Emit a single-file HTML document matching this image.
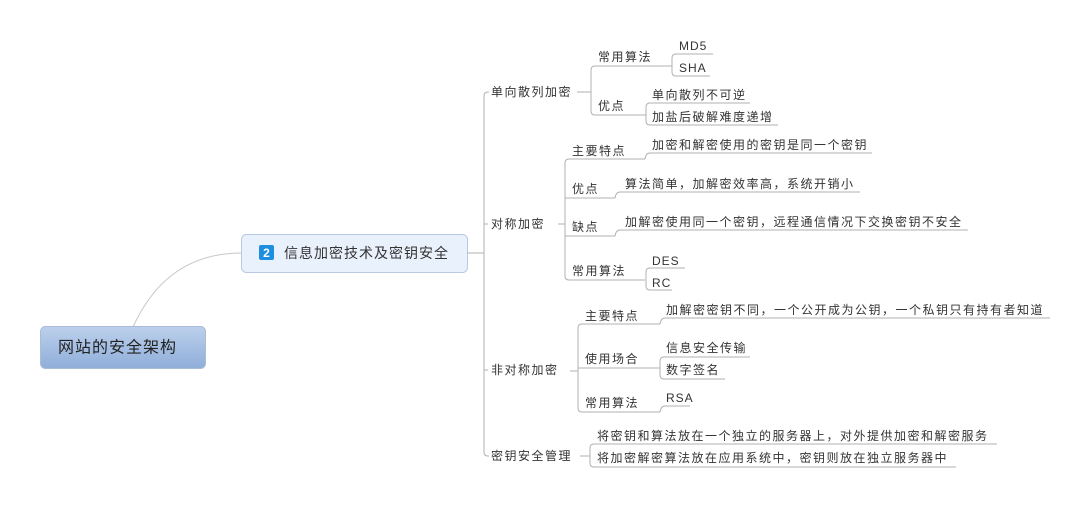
<!DOCTYPE html>
<html><head><meta charset="utf-8"><style>
body{margin:0;background:#fff;width:1088px;height:506px;overflow:hidden}
svg text{font-family:"Liberation Sans","Noto Sans CJK SC",sans-serif;font-size:12px;fill:#333;letter-spacing:1.5px;dominant-baseline:central}
.l{fill:none;stroke:#b0b0b0;stroke-width:1}
</style></head><body>
<svg width="1088" height="506" xmlns="http://www.w3.org/2000/svg">
<defs><linearGradient id="g" x1="0" y1="0" x2="0" y2="1"><stop offset="0" stop-color="#bcd0ec"/><stop offset="1" stop-color="#8faed9"/></linearGradient></defs>
<path class="l" d="M133,327 C150,290 180,253 242,253" stroke-width="2" style="stroke:#c8c8c8"/>
<rect x="40.5" y="326.5" width="165" height="42" rx="5" fill="url(#g)" stroke="#a9bcd8"/>
<text x="58" y="348" style="font-size:16px;letter-spacing:1px;fill:#222">网站的安全架构</text>
<rect x="241.5" y="234.5" width="226" height="38" rx="5" fill="#e9f1fc" stroke="#b8c9e1"/>
<rect x="259" y="245" width="15" height="15" rx="2" fill="#1e8fe0"/>
<text x="266.5" y="253" style="font-size:12px;font-weight:bold;fill:#fff;text-anchor:middle;letter-spacing:0">2</text>
<text x="284" y="253" style="font-size:14px;letter-spacing:1px">信息加密技术及密钥安全</text>
<path class="l" d="M467,253 H484"/>
<path class="l" d="M489,92 H488 Q484,92 484,96 V452 Q484,456 488,456 H489 M484,224 H488 M484,370 H488"/>
<text x="491" y="92">单向散列加密</text>
<text x="491" y="224">对称加密</text>
<text x="491" y="370">非对称加密</text>
<text x="491" y="456">密钥安全管理</text>
<!-- hash -->
<path class="l" d="M577,92 H591 M672,66 H595 Q591,66 591,70 V111 Q591,115 595,115 H646"/>
<text x="598" y="57">常用算法</text><text x="598" y="106">优点</text>
<path class="l" d="M713,54 H676 Q672,54 672,58 V72 Q672,76 676,76 H710"/>
<text x="679" y="46" style="letter-spacing:1px">MD5</text><text x="679" y="68" style="letter-spacing:1px">SHA</text>
<path class="l" d="M750,103 H650 Q646,103 646,107 V121 Q646,125 650,125 H778"/>
<text x="652" y="95">单向散列不可逆</text><text x="652" y="117">加盐后破解难度递增</text>
<!-- sym -->
<path class="l" d="M558,224 H565 M645,159 H569 Q565,159 565,163 V276 Q565,280 569,280 H645 M565,198 H615 M565,236 H615"/>
<text x="572" y="151">主要特点</text><text x="572" y="189">优点</text><text x="572" y="227">缺点</text><text x="572" y="271">常用算法</text>
<path class="l" d="M645,159 Q646,153 650,153 H872 M615,198 Q616,192 620,192 H860 M615,236 Q616,230 620,230 H968"/>
<text x="652" y="145">加密和解密使用的密钥是同一个密钥</text>
<text x="625" y="184">算法简单，加解密效率高，系统开销小</text>
<text x="625" y="222">加解密使用同一个密钥，远程通信情况下交换密钥不安全</text>
<path class="l" d="M685,268 H650 Q646,268 646,272 V286 Q646,290 650,290 H672"/>
<text x="652" y="261" style="letter-spacing:1px">DES</text><text x="652" y="283" style="letter-spacing:1px">RC</text>
<!-- asym -->
<path class="l" d="M570,371 H578 M660,324 H582 Q578,324 578,328 V408 Q578,412 582,412 H660 M578,368 H660"/>
<text x="585" y="316">主要特点</text><text x="585" y="359">使用场合</text><text x="585" y="403">常用算法</text>
<path class="l" d="M660,324 Q661,318 665,318 H1050 M660,412 Q661,406 665,406 H690"/>
<text x="666" y="310">加解密密钥不同，一个公开成为公钥，一个私钥只有持有者知道</text>
<path class="l" d="M750,357 H664 Q660,357 660,361 V375 Q660,379 664,379 H725"/>
<text x="666" y="348">信息安全传输</text><text x="666" y="370">数字签名</text>
<text x="666" y="398" style="letter-spacing:1px">RSA</text>
<!-- key -->
<path class="l" d="M580,456 H590 M997,444 H594 Q590,444 590,448 V463 Q590,467 594,467 H956"/>
<text x="597" y="436">将密钥和算法放在一个独立的服务器上，对外提供加密和解密服务</text>
<text x="597" y="458">将加密解密算法放在应用系统中，密钥则放在独立服务器中</text>
</svg>
</body></html>
